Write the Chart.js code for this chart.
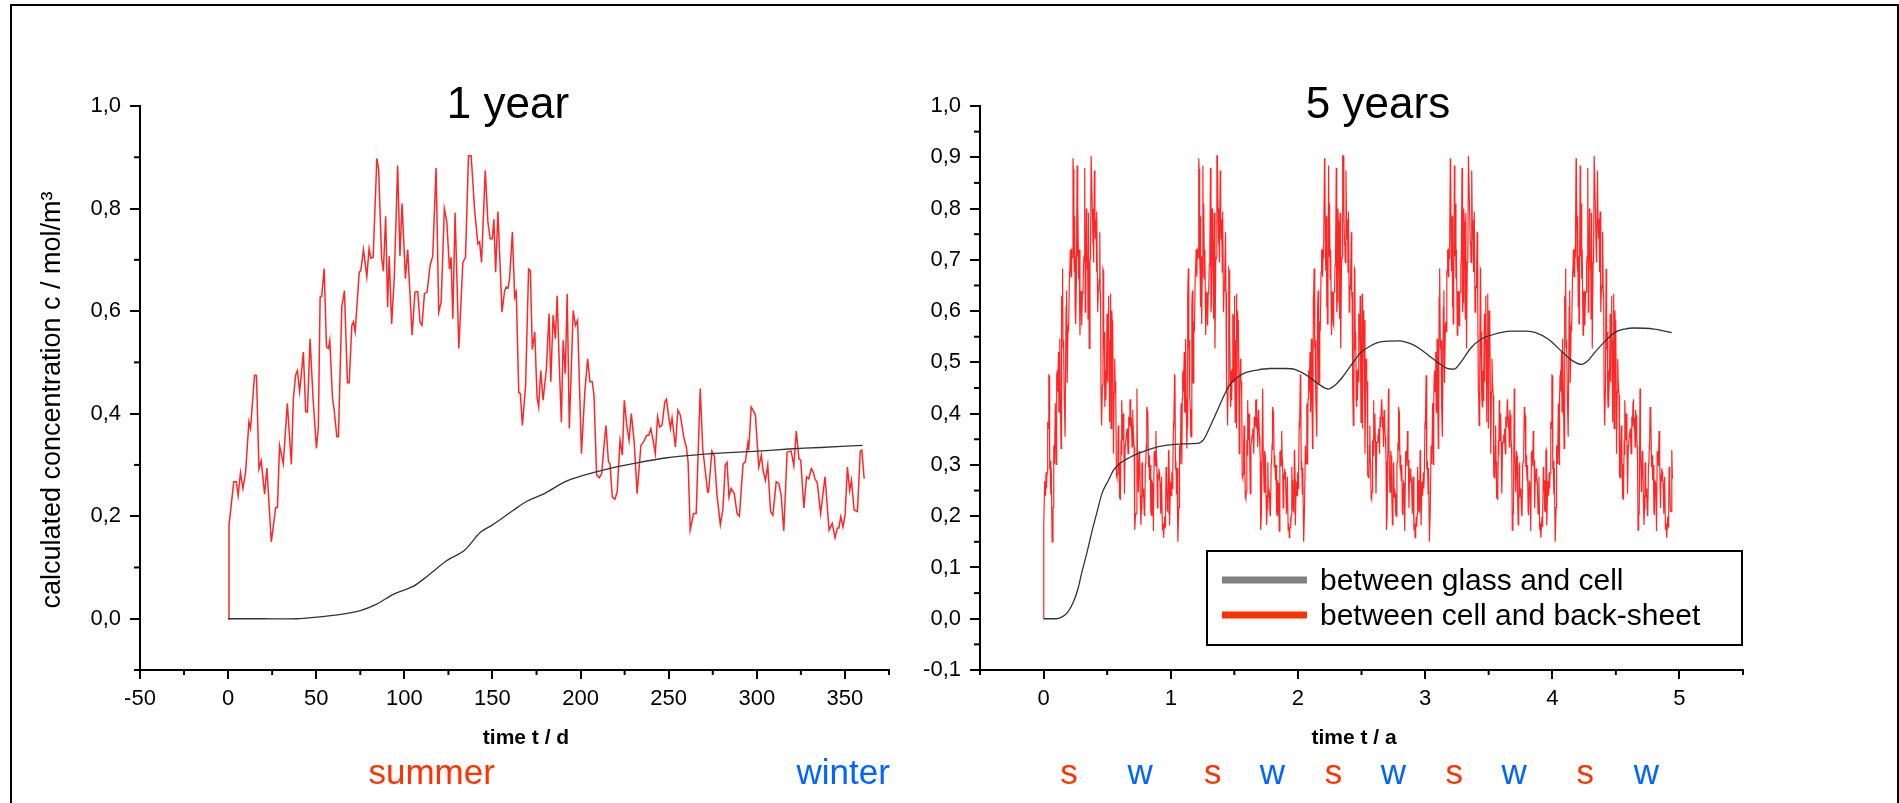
<!DOCTYPE html>
<html>
<head>
<meta charset="utf-8">
<script src="https://cdn.jsdelivr.net/npm/chart.js@4.4.0/dist/chart.umd.min.js"></script>
<style>
    html, body { margin: 0; padding: 0; background: #fff; }
    body { width: 1899px; height: 803px; position: relative; overflow: hidden; }
    #frame { position: absolute; left: 10px; top: 4px; width: 1885px; height: 900px; border: 2px solid #000; }
    canvas { position: absolute; top: 0; }
    #chartYear { left: 0; }
    #chartFive { left: 900px; }
</style>
</head>
<body>
<div id="frame"></div>
<canvas id="chartYear" width="950" height="803"></canvas>
<canvas id="chartFive" width="999" height="803"></canvas>
<script>
// 1 year: between cell and back-sheet (red), day / concentration
const yearDays = [0, 0.5, 3.2, 4.6, 5.7, 7, 8.4, 9.9, 11.8, 12.7, 15, 16.1, 17.5, 18.8, 20.7, 22, 24.5, 27, 28, 29.2,
    31.3, 33.6, 35.9, 37, 38.3, 39.3, 40.6, 42.7, 44, 45, 46.5, 48.2, 50.1, 51.2, 52.2, 53.1, 54.5, 55.8, 56.9, 57.7,
    59.2, 60.1, 61.7, 62.6, 64.5, 66, 67.7, 68.7, 70.2, 71.1, 72.1, 74.4, 75.3, 76.8, 78.7, 80, 81, 82.3, 84.4, 85.4,
    87.1, 88.1, 89.4, 90.5, 91.4, 92.8, 94.3, 96.2, 97.5, 98.7, 100.6, 101.9, 104.4, 106, 107.6, 108.9, 110, 111.4, 112.9, 114.6,
    116.1, 118, 119.5, 120.9, 122.7, 124.1, 125.6, 126.5, 127.5, 128.8, 130.9, 133.2, 134.7, 136.4, 137.9, 139.8, 141.7, 142.7, 143.8, 145.9,
    147.4, 148.7, 149.9, 150.8, 151.8, 153.1, 155.4, 156.9, 157.8, 158.8, 159.7, 161.3, 162.6, 163.5, 164.9, 165.8, 167, 168.8, 170.5, 171.5,
    172.6, 174, 175.3, 176.2, 177.4, 178.7, 180.6, 182.1, 183.1, 184.4, 185.7, 186.7, 187.8, 189.1, 190.1, 191.3, 192.4, 193.6, 195.8, 197.1,
    198.3, 200.5, 202.4, 204, 205.3, 206.6, 207.6, 209.1, 210.6, 212, 213.3, 214.4, 215.8, 216.7, 218, 219.5, 220.8, 222.4, 223.7, 224.8,
    226.2, 227.5, 228.8, 230.4, 232.1, 234.2, 235.7, 237.6, 238.7, 239.9, 241, 242.4, 243.7, 244.9, 246.2, 247.8, 248.7, 250, 251, 251.9,
    253.8, 255.2, 256.6, 258.5, 260, 261, 262.2, 264.1, 265.6, 267.9, 269.3, 272.1, 272.6, 274.5, 275.9, 277.4, 279.3, 280.8, 282.1, 283.1,
    284.2, 285.4, 287.2, 288.8, 290.1, 292.2, 293.5, 294.9, 295.4, 296.8, 298.3, 299.2, 301.1, 302.6, 303.5, 304.9, 306.2, 307.8, 309.1, 311,
    312.5, 313.8, 315.3, 317.2, 319.5, 321, 322.4, 323.9, 324.9, 326.7, 328.2, 329.5, 330.9, 332, 333, 334.3, 336.2, 338.7, 341, 342.8,
    344.4, 345.7, 346.6, 347.6, 348.9, 350.1, 351.4, 352.7, 353.7, 355.2, 357.1, 358.7, 359.6, 360.9];
const yearBackSheet = [0, 0.182, 0.267, 0.267, 0.24, 0.285, 0.254, 0.285, 0.384, 0.371, 0.475, 0.474, 0.292, 0.308, 0.243, 0.294, 0.15, 0.217, 0.217, 0.338,
    0.302, 0.42, 0.301, 0.429, 0.475, 0.484, 0.443, 0.52, 0.404, 0.403, 0.546, 0.429, 0.332, 0.374, 0.627, 0.629, 0.683, 0.53, 0.527, 0.543,
    0.432, 0.409, 0.355, 0.355, 0.608, 0.64, 0.46, 0.46, 0.572, 0.579, 0.56, 0.676, 0.679, 0.72, 0.667, 0.722, 0.703, 0.705, 0.898, 0.877,
    0.704, 0.678, 0.785, 0.608, 0.707, 0.575, 0.666, 0.884, 0.707, 0.81, 0.663, 0.72, 0.553, 0.637, 0.638, 0.578, 0.572, 0.634, 0.637, 0.689,
    0.707, 0.879, 0.598, 0.618, 0.8, 0.774, 0.682, 0.705, 0.585, 0.792, 0.527, 0.695, 0.705, 0.903, 0.903, 0.8, 0.731, 0.735, 0.695, 0.874,
    0.774, 0.741, 0.741, 0.779, 0.676, 0.794, 0.598, 0.64, 0.647, 0.645, 0.663, 0.754, 0.627, 0.637, 0.442, 0.439, 0.377, 0.455, 0.682, 0.679,
    0.525, 0.559, 0.432, 0.413, 0.484, 0.426, 0.487, 0.595, 0.462, 0.592, 0.546, 0.63, 0.507, 0.383, 0.543, 0.478, 0.634, 0.371, 0.601, 0.572,
    0.582, 0.322, 0.442, 0.507, 0.462, 0.462, 0.436, 0.28, 0.275, 0.283, 0.338, 0.377, 0.306, 0.302, 0.237, 0.233, 0.248, 0.348, 0.319, 0.426,
    0.377, 0.348, 0.4, 0.345, 0.244, 0.338, 0.345, 0.358, 0.358, 0.371, 0.351, 0.322, 0.394, 0.374, 0.377, 0.423, 0.428, 0.394, 0.371, 0.392,
    0.335, 0.407, 0.397, 0.355, 0.335, 0.306, 0.173, 0.205, 0.205, 0.449, 0.332, 0.247, 0.247, 0.327, 0.317, 0.241, 0.183, 0.215, 0.3, 0.305,
    0.237, 0.254, 0.244, 0.205, 0.2, 0.302, 0.306, 0.342, 0.329, 0.413, 0.404, 0.397, 0.296, 0.319, 0.29, 0.27, 0.3, 0.209, 0.202, 0.267,
    0.264, 0.241, 0.171, 0.325, 0.327, 0.298, 0.366, 0.312, 0.309, 0.216, 0.277, 0.273, 0.293, 0.286, 0.273, 0.265, 0.205, 0.277, 0.173, 0.186,
    0.158, 0.177, 0.177, 0.199, 0.179, 0.203, 0.296, 0.25, 0.27, 0.212, 0.209, 0.327, 0.329, 0.273];

// 1 year: between glass and cell (black)
const yearGlassDays = [0, 20, 39, 50, 63, 75, 84, 94, 105, 113, 124, 134, 143, 150, 162, 170, 180, 191, 201, 215,
    232, 249, 267, 284, 301, 318, 336, 360];
const yearGlass = [0, 0, 0, 0.003, 0.008, 0.016, 0.028, 0.048, 0.063, 0.083, 0.113, 0.133, 0.168, 0.183, 0.212, 0.23, 0.245, 0.267, 0.279, 0.292,
    0.304, 0.314, 0.32, 0.324, 0.327, 0.331, 0.334, 0.338];

// 5 years: between glass and cell (black), years / concentration
const fiveGlassYears = [0, 0.1, 0.15, 0.19, 0.23, 0.27, 0.3, 0.34, 0.38, 0.42, 0.46, 0.51, 0.55, 0.6, 0.68, 0.75, 0.85, 0.96, 1.1, 1.21,
    1.26, 1.31, 1.37, 1.42, 1.47, 1.52, 1.57, 1.68, 1.78, 1.9, 1.98, 2.08, 2.16, 2.24, 2.29, 2.34, 2.42, 2.49, 2.57, 2.65,
    2.8, 2.9, 2.95, 3.03, 3.11, 3.18, 3.23, 3.28, 3.36, 3.44, 3.52, 3.67, 3.8, 3.87, 3.97, 4.08, 4.16, 4.23, 4.28, 4.33,
    4.41, 4.49, 4.57, 4.64, 4.8, 4.94];
const fiveGlass = [0, 0, 0.004, 0.013, 0.03, 0.058, 0.09, 0.128, 0.17, 0.208, 0.245, 0.27, 0.29, 0.303, 0.315, 0.323, 0.332, 0.338, 0.341, 0.342,
    0.35, 0.375, 0.408, 0.436, 0.458, 0.47, 0.478, 0.485, 0.488, 0.488, 0.486, 0.473, 0.458, 0.448, 0.455, 0.468, 0.495, 0.518, 0.532, 0.54,
    0.542, 0.535, 0.528, 0.513, 0.498, 0.488, 0.487, 0.5, 0.528, 0.545, 0.553, 0.561, 0.561, 0.558, 0.545, 0.52, 0.503, 0.496, 0.503, 0.518,
    0.54, 0.558, 0.565, 0.567, 0.565, 0.558];

// season markers under the axes
const yearSeasons = ['summer', 'winter'];
const yearSeasonDays = [115.5, 349];
const fiveSeasons = ['s', 'w', 's', 'w', 's', 'w', 's', 'w', 's', 'w'];
const fiveSeasonYears = [0.2, 0.76, 1.33, 1.8, 2.28, 2.75, 3.23, 3.7, 4.26, 4.74];

const legendLabels = ['between glass and cell', 'between cell and back-sheet'];
const legendColors = ['#808080', '#ff3300'];

const SIM_YEAR_DAYS = 361; // the 5-year run repeats the same weather year

const FONT = "'Liberation Sans', Arial, sans-serif";
const RED_LINE = 'rgba(255, 0, 0, 0.85)';
const BLACK_LINE = '#333';

function pairs(xs, ys) {
    return xs.map((x, i) => ({ x: x, y: ys[i] }));
}

// red series of the 5 year chart: the measured year laid end to end
const fiveBackSheet = [];
for (let k = 0; k < 5; k++) {
    yearDays.forEach((d, i) => {
        if (k > 0 && i === 0) return;
        fiveBackSheet.push({ x: (k * SIM_YEAR_DAYS + d) / 365, y: yearBackSheet[i] });
    });
}

function seasonColor(name) {
    return name.charAt(0) === 's' ? '#ff3300' : '#0066ff';
}

function commaLabel(v) {
    return v.toFixed(1).replace('.', ',');
}

// short ticks for the unlabeled positions, plus all the extra texts
function decorPlugin(cfg) {
    return {
        id: 'decor',
        afterDraw(chart) {
            const ctx = chart.ctx;
            const xs = chart.scales.x, ys = chart.scales.y;
            ctx.save();
            ctx.strokeStyle = '#000';
            ctx.lineWidth = 2;
            xs.ticks.forEach(t => {
                if (cfg.xMajor(t.value)) return;
                const px = xs.getPixelForValue(t.value);
                ctx.beginPath(); ctx.moveTo(px, xs.top); ctx.lineTo(px, xs.top + 5); ctx.stroke();
            });
            ys.ticks.forEach(t => {
                if (cfg.yMajor(t.value)) return;
                const py = ys.getPixelForValue(t.value);
                ctx.beginPath(); ctx.moveTo(ys.right, py); ctx.lineTo(ys.right - 6, py); ctx.stroke();
            });

            ctx.fillStyle = '#000';
            ctx.textAlign = 'center';
            ctx.textBaseline = 'alphabetic';
            ctx.font = '44px ' + FONT;
            ctx.fillText(cfg.title, cfg.titleX, 118);

            ctx.font = 'bold 21px ' + FONT;
            ctx.fillText(cfg.xTitle, cfg.xTitleX, 744);

            if (cfg.yTitle) {
                ctx.save();
                ctx.translate(60, 400);
                ctx.rotate(-Math.PI / 2);
                ctx.font = '27px ' + FONT;
                ctx.fillText(cfg.yTitle, 0, 0);
                ctx.restore();
            }

            ctx.font = '35px ' + FONT;
            cfg.seasons.forEach((s, i) => {
                ctx.fillStyle = seasonColor(s);
                ctx.fillText(s, xs.getPixelForValue(cfg.seasonPos[i]), 784);
            });

            if (cfg.legend) {
                const L = cfg.legend;
                ctx.fillStyle = '#fff';
                ctx.fillRect(L.x, L.y, L.w, L.h);
                ctx.strokeStyle = '#000';
                ctx.lineWidth = 2;
                ctx.strokeRect(L.x, L.y, L.w, L.h);
                ctx.font = '30px ' + FONT;
                ctx.textAlign = 'left';
                legendLabels.forEach((lab, i) => {
                    const cy = L.y + 29 + i * 35;
                    ctx.strokeStyle = legendColors[i];
                    ctx.lineWidth = 7;
                    ctx.beginPath(); ctx.moveTo(L.x + 15, cy); ctx.lineTo(L.x + 100, cy); ctx.stroke();
                    ctx.fillStyle = '#000';
                    ctx.fillText(lab, L.x + 113, cy + 10);
                });
            }
            ctx.restore();
        }
    };
}

function axisOptions(o) {
    return {
        type: 'linear',
        min: o.min,
        max: o.max,
        ticks: {
            stepSize: o.step,
            autoSkip: false,
            maxRotation: 0,
            color: '#000',
            padding: o.pad,
            font: { family: FONT, size: 22 },
            callback: v => o.major(v) ? o.label(v) : ''
        },
        grid: {
            drawOnChartArea: false,
            drawTicks: true,
            tickLength: o.tick,
            lineWidth: 2,
            color: c => (c.tick && o.major(c.tick.value)) ? '#000' : 'rgba(0,0,0,0)'
        },
        border: { color: '#000', width: 2 },
        afterFit: o.fit
    };
}

const yearXMajor = v => Math.round(v) % 50 === 0;
const yearYMajor = v => v > -0.05 && Math.round(v * 10) % 2 === 0;
const fiveXMajor = v => Math.abs(v - Math.round(v)) < 1e-6;
const fiveYMajor = v => Math.round(v * 20) % 2 === 0;

new Chart(document.getElementById('chartYear'), {
    type: 'line',
    data: {
        datasets: [
            { label: legendLabels[0], data: pairs(yearGlassDays, yearGlass), borderColor: BLACK_LINE, borderWidth: 1.3, pointRadius: 0, tension: 0.3 },
            { label: legendLabels[1], data: pairs(yearDays, yearBackSheet), borderColor: RED_LINE, borderWidth: 1.5, pointRadius: 0, tension: 0 }
        ]
    },
    options: {
        responsive: false,
        animation: false,
        layout: { padding: { top: 106, right: 61, left: 0, bottom: 0 } },
        plugins: { legend: { display: false }, tooltip: { enabled: false } },
        scales: {
            x: axisOptions({ min: -50, max: 375, step: 25, pad: 7, tick: 9, major: yearXMajor, label: v => String(Math.round(v)), fit: s => { s.height = 133; } }),
            y: axisOptions({ min: -0.1, max: 1.0, step: 0.1, pad: 9, tick: 10, major: yearYMajor, label: commaLabel, fit: s => { s.width = 140; } })
        }
    },
    plugins: [decorPlugin({
        xMajor: yearXMajor, yMajor: yearYMajor,
        title: '1 year', titleX: 508,
        xTitle: 'time t / d', xTitleX: 526,
        yTitle: 'calculated concentration c / mol/m³',
        seasons: yearSeasons, seasonPos: yearSeasonDays
    })]
});

new Chart(document.getElementById('chartFive'), {
    type: 'line',
    data: {
        datasets: [
            { label: legendLabels[0], data: pairs(fiveGlassYears, fiveGlass), borderColor: BLACK_LINE, borderWidth: 1.3, pointRadius: 0, cubicInterpolationMode: 'monotone' },
            { label: legendLabels[1], data: fiveBackSheet, borderColor: RED_LINE, borderWidth: 1.2, pointRadius: 0, tension: 0 }
        ]
    },
    options: {
        responsive: false,
        animation: false,
        layout: { padding: { top: 106, right: 156, left: 0, bottom: 0 } },
        plugins: { legend: { display: false }, tooltip: { enabled: false } },
        scales: {
            x: axisOptions({ min: -0.5, max: 5.5, step: 0.5, pad: 7, tick: 9, major: fiveXMajor, label: v => String(Math.round(v)), fit: s => { s.height = 133; } }),
            y: axisOptions({ min: -0.1, max: 1.0, step: 0.05, pad: 9, tick: 10, major: fiveYMajor, label: commaLabel, fit: s => { s.width = 80; } })
        }
    },
    plugins: [decorPlugin({
        xMajor: fiveXMajor, yMajor: fiveYMajor,
        title: '5 years', titleX: 478,
        xTitle: 'time t / a', xTitleX: 454,
        yTitle: null,
        seasons: fiveSeasons, seasonPos: fiveSeasonYears,
        legend: { x: 307, y: 551, w: 535, h: 94 }
    })]
});
</script>
</body>
</html>
